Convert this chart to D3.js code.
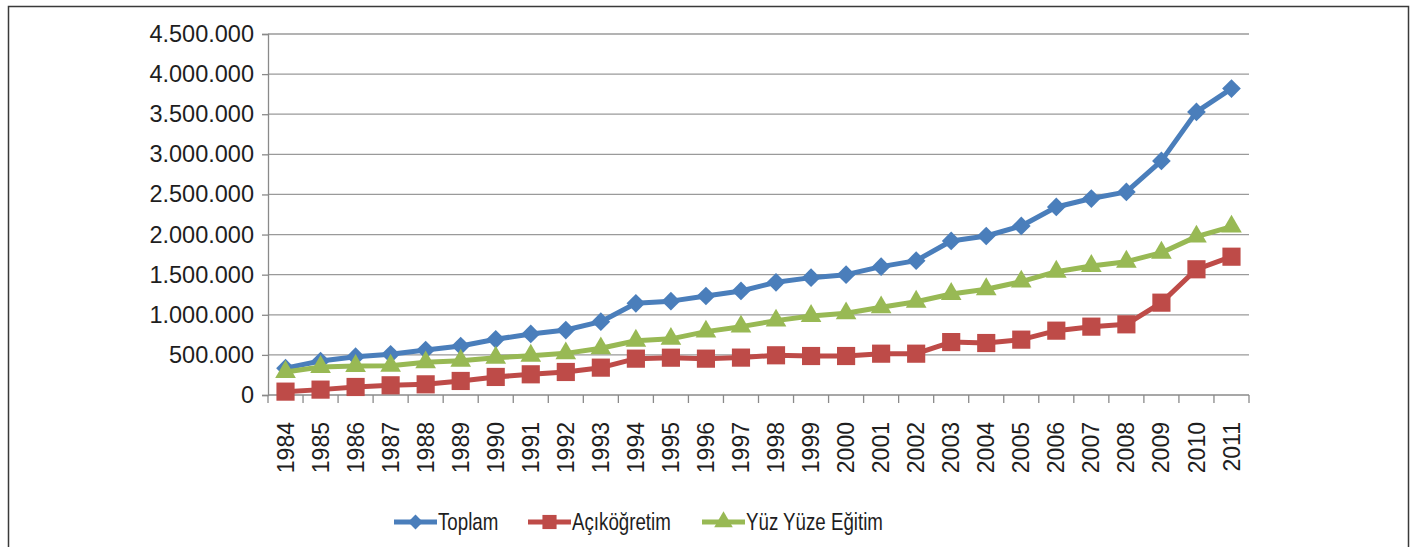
<!DOCTYPE html>
<html>
<head>
<meta charset="utf-8">
<script src="https://cdn.jsdelivr.net/npm/d3@7"></script>
<style>
  body { margin: 0; background: #fff; }
  svg { display: block; }
</style>
</head>
<body>
<script>
// Data
var years = ["1984","1985","1986","1987","1988","1989","1990","1991","1992","1993",
             "1994","1995","1996","1997","1998","1999","2000","2001","2002","2003",
             "2004","2005","2006","2007","2008","2009","2010","2011"];

var toplam = [335000, 424000, 478000, 507000, 561000, 611000, 694000, 761000, 810000, 914000,
              1143000, 1170000, 1234000, 1297000, 1405000, 1463000, 1500000, 1600000, 1675000, 1920000,
              1982000, 2107000, 2344000, 2449000, 2532000, 2918000, 3529000, 3820000];

var acikogretim = [42000, 67000, 100000, 121000, 133000, 175000, 225000, 258000, 287000, 341000,
                   453000, 465000, 453000, 466000, 495000, 486000, 486000, 515000, 515000, 660000,
                   648000, 690000, 802000, 852000, 881000, 1151000, 1567000, 1724000];

var yuzYuze = [287000, 349000, 362000, 365000, 407000, 428000, 465000, 490000, 519000, 582000,
               677000, 700000, 790000, 852000, 927000, 985000, 1018000, 1093000, 1163000, 1259000,
               1318000, 1413000, 1537000, 1608000, 1662000, 1774000, 1974000, 2099000];

var yTicks = [0, 500000, 1000000, 1500000, 2000000, 2500000, 3000000, 3500000, 4000000, 4500000];

var series = [
  { name: "Toplam", values: toplam, color: "#4a7ebb", shape: "diamond" },
  { name: "Açıköğretim", values: acikogretim, color: "#be4b48", shape: "square" },
  { name: "Yüz Yüze Eğitim", values: yuzYuze, color: "#98b954", shape: "triangle" }
];

var W = 1410, H = 547;
var margin = { top: 34, right: 161, bottom: 152, left: 268 },
    width = W - margin.left - margin.right,
    height = H - margin.top - margin.bottom;

var svg = d3.select("body").append("svg")
    .attr("width", W)
    .attr("height", H);

// Outer frame
svg.append("rect")
    .attr("x", 8.5).attr("y", 6.5)
    .attr("width", 1400).attr("height", 560)
    .attr("fill", "none")
    .attr("stroke", "#3a3a3a")
    .attr("stroke-width", 1.5);

var g = svg.append("g")
    .attr("transform", "translate(" + margin.left + "," + margin.top + ")");

var x = d3.scaleBand().domain(years).range([0, width]);
var y = d3.scaleLinear().domain([0, 4500000]).range([height, 0]);

var fmt = function (d) { return d3.format(",")(d).replace(/,/g, "."); };

// Gridlines
g.append("g")
  .selectAll("line")
  .data(yTicks.slice(1))
  .join("line")
    .attr("x1", 0).attr("x2", width)
    .attr("y1", function (d) { return y(d); })
    .attr("y2", function (d) { return y(d); })
    .attr("stroke", "#9a9a9a")
    .attr("stroke-width", 1.3);

// Y axis
var yAxis = g.append("g")
    .call(d3.axisLeft(y).tickValues(yTicks).tickFormat(fmt).tickSize(6).tickPadding(8));
yAxis.select(".domain").attr("stroke", "#8a8a8a").attr("stroke-width", 1.3);
yAxis.selectAll(".tick line").attr("stroke", "#8a8a8a").attr("stroke-width", 1.3);
yAxis.selectAll("text")
    .style("font-family", "'Liberation Sans', Arial, sans-serif")
    .style("font-size", "23.5px")
    .attr("fill", "#1e1e1e");

// X axis with ticks between categories
var xAxis = g.append("g")
    .attr("transform", "translate(0," + height + ")");
xAxis.append("line")
    .attr("x1", 0).attr("x2", width)
    .attr("stroke", "#8a8a8a").attr("stroke-width", 1.3);
xAxis.selectAll(".sep")
  .data(years.concat(["end"]))
  .join("line")
    .attr("class", "sep")
    .attr("x1", function (d, i) { return i * x.step(); })
    .attr("x2", function (d, i) { return i * x.step(); })
    .attr("y1", 0).attr("y2", 8)
    .attr("stroke", "#8a8a8a").attr("stroke-width", 1.3);
xAxis.selectAll(".lbl")
  .data(years)
  .join("text")
    .attr("class", "lbl")
    .attr("transform", function (d) {
      return "translate(" + (x(d) + x.bandwidth() / 2) + ",27) rotate(-90)";
    })
    .attr("text-anchor", "end")
    .attr("dy", "0.35em")
    .style("font-family", "'Liberation Sans', Arial, sans-serif")
    .style("font-size", "23px")
    .attr("fill", "#1e1e1e")
    .text(function (d) { return d; });

// Marker symbols
var symbols = {
  diamond: d3.symbol().type(d3.symbolSquare).size(175),
  square: d3.symbol().type(d3.symbolSquare).size(330),
  triangle: d3.symbol().type(d3.symbolTriangle).size(185)
};

var line = d3.line()
    .x(function (d, i) { return x(years[i]) + x.bandwidth() / 2; })
    .y(function (d) { return y(d); });

series.forEach(function (s) {
  g.append("path")
      .datum(s.values)
      .attr("fill", "none")
      .attr("stroke", s.color)
      .attr("stroke-width", 5)
      .attr("stroke-linejoin", "round")
      .attr("d", line);

  g.append("g")
    .selectAll("path")
    .data(s.values)
    .join("path")
      .attr("transform", function (d, i) {
        return "translate(" + (x(years[i]) + x.bandwidth() / 2) + "," + y(d) + ")" +
               (s.shape === "diamond" ? " rotate(45)" : "");
      })
      .attr("d", symbols[s.shape]())
      .attr("fill", s.color);
});

// Legend
var legendX = [394, 528, 702];
var legend = svg.append("g").attr("transform", "translate(0,522)");
series.forEach(function (s, i) {
  var lg = legend.append("g").attr("transform", "translate(" + legendX[i] + ",0)");
  lg.append("line")
      .attr("x1", 0).attr("x2", 43)
      .attr("stroke", s.color).attr("stroke-width", 5);
  lg.append("path")
      .attr("transform", "translate(21.5,0)" + (s.shape === "diamond" ? " rotate(45)" : ""))
      .attr("d", s.shape === "diamond" ? d3.symbol().type(d3.symbolSquare).size(110)()
               : s.shape === "square" ? d3.symbol().type(d3.symbolSquare).size(200)()
               : d3.symbol().type(d3.symbolTriangle).size(150)())
      .attr("fill", s.color);
  lg.append("text")
      .attr("transform", "translate(44,0) scale(0.78,1)")
      .attr("dy", "0.35em")
      .style("font-family", "'Liberation Sans', Arial, sans-serif")
      .style("font-size", "24px")
      .attr("fill", "#1e1e1e")
      .text(s.name);
});
</script>
</body>
</html>
